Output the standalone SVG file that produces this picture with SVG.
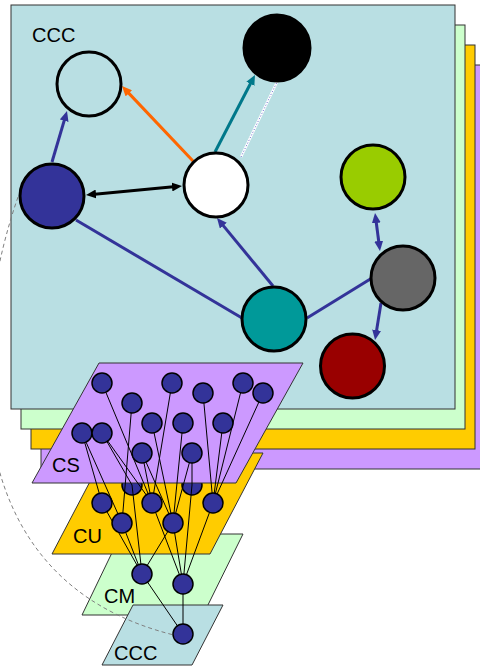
<svg xmlns="http://www.w3.org/2000/svg" width="480" height="666" viewBox="0 0 480 666">
<style>
.layer{stroke:#333;stroke-width:1}
.big{stroke:#000;stroke-width:3}
.sn{fill:#333399;stroke:#000;stroke-width:1.5}
.mesh line{stroke:#000;stroke-width:1}
.lbl{font-family:"Liberation Sans",Arial,sans-serif;font-size:20px;fill:#000}
.e3{stroke-width:3;fill:none}
</style>
<defs>
<marker id="aBlue" markerUnits="userSpaceOnUse" markerWidth="10" markerHeight="9" refX="4" refY="4.5" orient="auto-start-reverse"><path d="M0,0 L10,4.5 L0,9 Z" fill="#333399"/></marker>
<marker id="aBlack" markerUnits="userSpaceOnUse" markerWidth="10" markerHeight="9" refX="4" refY="4.5" orient="auto-start-reverse"><path d="M0,0 L10,4.5 L0,9 Z" fill="#000"/></marker>
<marker id="aOrange" markerUnits="userSpaceOnUse" markerWidth="10" markerHeight="9" refX="4" refY="4.5" orient="auto-start-reverse"><path d="M0,0 L10,4.5 L0,9 Z" fill="#FF6600"/></marker>
<marker id="aTeal" markerUnits="userSpaceOnUse" markerWidth="10" markerHeight="9" refX="4" refY="4.5" orient="auto-start-reverse"><path d="M0,0 L10,4.5 L0,9 Z" fill="#00788A"/></marker>
</defs>
<g id="stack">
<rect class="layer" x="41" y="65" width="444" height="404" fill="#CC99FF"/>
<rect class="layer" x="31" y="45" width="444" height="404" fill="#FFCC00"/>
<rect class="layer" x="21" y="25" width="444" height="404" fill="#CCFFCC"/>
<rect class="layer" x="11" y="5" width="444" height="404" fill="#B9DFE3"/>
</g>
<text class="lbl" x="32" y="42">CCC</text>
<g id="connectors">
<line class="e3" x1="52" y1="162" x2="65.3" y2="116.8" stroke="#333399" marker-end="url(#aBlue)"/>
<line class="e3" x1="92" y1="194.4" x2="176" y2="186.6" stroke="#000" marker-start="url(#aBlack)" marker-end="url(#aBlack)"/>
<line class="e3" x1="193" y1="161" x2="126.1" y2="90.4" stroke="#FF6600" marker-end="url(#aOrange)"/>
<line class="e3" x1="215" y1="152" x2="252.2" y2="80.3" stroke="#00788A" marker-end="url(#aTeal)"/>
<line x1="241" y1="157" x2="277" y2="82" stroke="#fff" stroke-width="2.5"/>
<line x1="241" y1="157" x2="277" y2="82" stroke="#6666CC" stroke-width="1" stroke-dasharray="1,2"/>
<line class="e3" x1="273" y1="286" x2="220.8" y2="222.6" stroke="#333399" marker-end="url(#aBlue)"/>
<line class="e3" x1="76" y1="220" x2="242" y2="318" stroke="#333399"/>
<line class="e3" x1="307" y1="318" x2="372" y2="278" stroke="#333399"/>
<line class="e3" x1="375.8" y1="219" x2="379.2" y2="245" stroke="#333399" marker-start="url(#aBlue)" marker-end="url(#aBlue)"/>
<line class="e3" x1="381" y1="303" x2="376" y2="334.1" stroke="#333399" marker-end="url(#aBlue)"/>
</g>
<g id="n-hollow"><circle class="big" cx="89" cy="84" r="32" fill="none"/></g>
<g id="n-darkblue"><circle class="big" cx="52" cy="196" r="32" fill="#333399"/></g>
<g id="n-white"><circle class="big" cx="216" cy="185" r="32" fill="#fff"/></g>
<g id="n-black"><circle class="big" cx="277" cy="48" r="33" fill="#000"/></g>
<g id="n-green"><circle class="big" cx="373" cy="177" r="32" fill="#99CC00"/></g>
<g id="n-gray"><circle class="big" cx="403" cy="278" r="32" fill="#666666"/></g>
<g id="n-teal"><circle class="big" cx="274" cy="319" r="32" fill="#009999"/></g>
<g id="n-red"><circle class="big" cx="352.5" cy="366" r="32" fill="#990000"/></g>

<g id="layer-CM"><polygon class="layer" points="121,534 243,534 203,615 82,615" fill="#CCFFCC" stroke="#000"/><text class="lbl" x="104" y="603">CM</text></g>
<g id="layer-CCC"><polygon class="layer" points="133,605 223,605 192,665 102,665" fill="#B9DFE3" stroke="#000"/><text class="lbl" x="114" y="660">CCC</text></g>
<g id="layer-CU"><polygon class="layer" points="105,453 263,453 210,554 52,554" fill="#FFCC00" stroke="#000"/><text class="lbl" x="73" y="543">CU</text></g>
<g id="u-f"><circle class="sn" cx="132" cy="485" r="10"/></g>
<g id="u-g"><circle class="sn" cx="192" cy="485" r="10"/></g>
<g id="layer-CS"><polygon class="layer" points="99,363 303,363 236,483 32,483" fill="#CC99FF" stroke="#000"/><text class="lbl" x="52" y="472">CS</text></g>

<g id="mesh" class="mesh">
<line x1="102" y1="383" x2="152" y2="503"/>
<line x1="132" y1="403" x2="122" y2="523"/>
<line x1="172" y1="383" x2="152" y2="503"/>
<line x1="203" y1="393" x2="213" y2="503"/>
<line x1="243" y1="383" x2="213" y2="503"/>
<line x1="263" y1="393" x2="213" y2="503"/>
<line x1="82" y1="433" x2="102" y2="503"/>
<line x1="82" y1="433" x2="122" y2="523"/>
<line x1="102" y1="433" x2="152" y2="503"/>
<line x1="102" y1="433" x2="132" y2="485"/>
<line x1="152" y1="423" x2="173" y2="523"/>
<line x1="183" y1="423" x2="173" y2="523"/>
<line x1="223" y1="423" x2="213" y2="503"/>
<line x1="142" y1="453" x2="152" y2="503"/>
<line x1="142" y1="453" x2="173" y2="523"/>
<line x1="192" y1="453" x2="173" y2="523"/>
<line x1="192" y1="453" x2="192" y2="485"/>
<line x1="102" y1="503" x2="142" y2="574"/>
<line x1="122" y1="523" x2="142" y2="574"/>
<line x1="173" y1="523" x2="142" y2="574"/>
<line x1="132" y1="485" x2="142" y2="574"/>
<line x1="152" y1="503" x2="183" y2="584"/>
<line x1="173" y1="523" x2="183" y2="584"/>
<line x1="213" y1="503" x2="183" y2="584"/>
<line x1="192" y1="485" x2="183" y2="584"/>
<line x1="142" y1="574" x2="183" y2="634"/>
<line x1="183" y1="584" x2="183" y2="634"/>
</g>
<path id="zoom-arc" d="M18,197 C-25,320 -60,580 178,636" fill="none" stroke="#808080" stroke-width="1" stroke-dasharray="4,3"/>

<g id="s1"><circle class="sn" cx="102" cy="383" r="10"/></g>
<g id="s2"><circle class="sn" cx="132" cy="403" r="10"/></g>
<g id="s3"><circle class="sn" cx="172" cy="383" r="10"/></g>
<g id="s4"><circle class="sn" cx="203" cy="393" r="10"/></g>
<g id="s5"><circle class="sn" cx="243" cy="383" r="10"/></g>
<g id="s6"><circle class="sn" cx="263" cy="393" r="10"/></g>
<g id="s7"><circle class="sn" cx="82" cy="433" r="10"/></g>
<g id="s8"><circle class="sn" cx="102" cy="433" r="10"/></g>
<g id="s9"><circle class="sn" cx="152" cy="423" r="10"/></g>
<g id="s10"><circle class="sn" cx="183" cy="423" r="10"/></g>
<g id="s11"><circle class="sn" cx="223" cy="423" r="10"/></g>
<g id="s12"><circle class="sn" cx="142" cy="453" r="10"/></g>
<g id="s13"><circle class="sn" cx="192" cy="453" r="10"/></g>
<g id="u-a"><circle class="sn" cx="102" cy="503" r="10"/></g>
<g id="u-b"><circle class="sn" cx="152" cy="503" r="10"/></g>
<g id="u-c"><circle class="sn" cx="213" cy="503" r="10"/></g>
<g id="u-d"><circle class="sn" cx="122" cy="523" r="10"/></g>
<g id="u-e"><circle class="sn" cx="173" cy="523" r="10"/></g>
<g id="m-1"><circle class="sn" cx="142" cy="574" r="10"/></g>
<g id="m-2"><circle class="sn" cx="183" cy="584" r="10"/></g>
<g id="c-1"><circle class="sn" cx="183" cy="634" r="10"/></g>
</svg>
